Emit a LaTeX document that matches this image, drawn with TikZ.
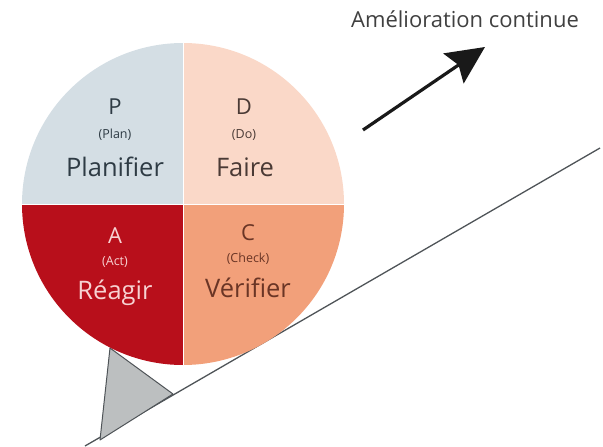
\documentclass[tikz,border=0pt]{standalone}
\usepackage{fontspec}
\setmainfont{Open Sans}
\usetikzlibrary{arrows.meta, positioning}
\definecolor{pdcaplan}{HTML}{D4DEE4}
\definecolor{pdcado}{HTML}{FAD8C8}
\definecolor{pdcaact}{HTML}{B80F1B}
\definecolor{pdcacheck}{HTML}{F2A07A}
\definecolor{txtplan}{HTML}{2E3B44}
\definecolor{txtdo}{HTML}{4A3A35}
\definecolor{txtact}{HTML}{F7D2D2}
\definecolor{txtcheck}{HTML}{6A3525}
\definecolor{slopegray}{HTML}{4F5458}
\definecolor{wedgefill}{HTML}{BCBFC0}

\begin{document}
\begin{tikzpicture}[
  x=1pt, y=-1pt,
  quadletter/.style={inner sep=0pt, font=\fontsize{22}{22}\selectfont},
  quadsub/.style={inner sep=0pt, font=\fontsize{12.5}{12.5}\selectfont},
  quadword/.style={inner sep=0pt, font=\fontsize{25.5}{25.5}\selectfont},
]
\useasboundingbox (0,0) rectangle (603,447);

% slope and wedge
\coordinate (slopelow) at (85,446);
\coordinate (slopehigh) at (600,148);
\draw[slopegray, line width=1.3pt] (slopelow) -- (slopehigh);
\coordinate (wedgetop) at (110,348);
\coordinate (wedgeright) at (173,394);
\coordinate (wedgebottom) at (100,440);
\filldraw[fill=wedgefill, draw=slopegray, line width=1pt, line join=round]
  (wedgetop) -- (wedgeright) -- (wedgebottom) -- cycle;

% wheel
\coordinate (hub) at (183,204);
\fill[pdcaplan] (hub) -- ++(-161,0) arc[start angle=180, end angle=270, radius=161] -- cycle;
\fill[pdcado] (hub) -- ++(0,-161) arc[start angle=270, end angle=360, radius=161] -- cycle;
\fill[pdcacheck] (hub) -- ++(161,0) arc[start angle=0, end angle=90, radius=161] -- cycle;
\fill[pdcaact] (hub) -- ++(0,161) arc[start angle=90, end angle=180, radius=161] -- cycle;
\draw[white, line width=0.8pt] (hub) ++(-161,0) -- ++(322,0);
\draw[white, line width=0.8pt] (hub) ++(0,-161) -- ++(0,322);

% labels
\node[quadletter, txtplan] (plan) at (115,107) {P};
\node[quadsub, txtplan] (plansub) at (115,135) {(Plan)};
\node[quadword, txtplan] (planword) at (115,167) {Planifier};
\node[quadletter, txtdo] (do) at (244,107) {D};
\node[quadsub, txtdo] (dosub) at (244,135) {(Do)};
\node[quadword, txtdo] (doword) at (245,167) {Faire};
\node[quadletter, txtact] (act) at (115,236) {A};
\node[quadsub, txtact] (actsub) at (115,262) {(Act)};
\node[quadword, txtact] (actword) at (115,293) {Réagir};
\node[quadletter, txtcheck] (check) at (248,233) {C};
\node[quadsub, txtcheck] (checksub) at (248,259) {(Check)};
\node[quadword, txtcheck] (checkword) at (248,288) {Vérifier};

% improvement arrow
\node[inner sep=0pt, font=\fontsize{22}{22}\selectfont, text=black!75] (improve) at (465,19) {Amélioration continue};
\coordinate (arrowtail) at (363,130);
\coordinate (arrowtip) at (485,47);
\draw[-{Stealth[length=38pt, width=36pt, inset=6pt]}, line width=3.2pt, black!90] (arrowtail) -- (arrowtip);
\end{tikzpicture}
\end{document}
